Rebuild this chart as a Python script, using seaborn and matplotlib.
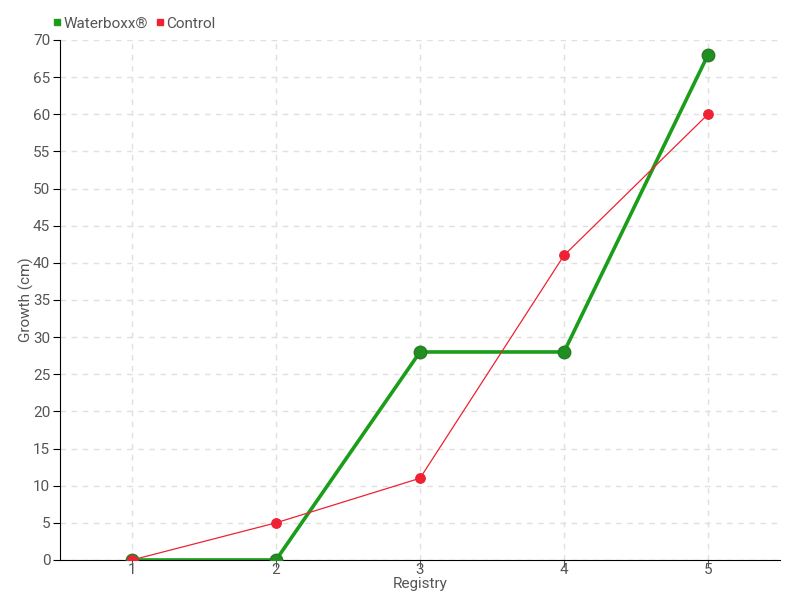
import matplotlib
matplotlib.use("Agg")
import matplotlib.pyplot as plt
import seaborn as sns
import pandas as pd
from matplotlib.lines import Line2D

registry = [1, 2, 3, 4, 5]
waterboxx = [0, 0, 28, 28, 68]
control = [0, 5, 11, 41, 60]

df = pd.DataFrame({
    "Registry": registry * 2,
    "Growth": waterboxx + control,
    "Series": ["Waterboxx®"] * 5 + ["Control"] * 5,
})

sns.set_style("white")
plt.rcParams['font.family'] = ['Roboto', 'DejaVu Sans']

fig = plt.figure(figsize=(8, 6), dpi=100)
ax = fig.add_axes([0.075, 0.0667, 0.9, 0.8667])

green = "#1a9e1a"
red = "#ee2233"
sns.lineplot(data=df[df.Series == "Waterboxx®"], x="Registry", y="Growth", ax=ax,
             color=green, linewidth=2.6, marker="o", markersize=9,
             markerfacecolor="#1f8f1f", markeredgecolor="#2a7a2a", markeredgewidth=1, zorder=3)
sns.lineplot(data=df[df.Series == "Control"], x="Registry", y="Growth", ax=ax,
             color=red, linewidth=0.9, marker="o", markersize=7,
             markerfacecolor=red, markeredgecolor=red, zorder=4)

ax.set_xlim(0.5, 5.5)
ax.set_ylim(0, 70)
ax.set_xticks(registry)
ax.set_yticks(range(0, 71, 5))
ax.grid(True, color="#e0e0e0", linestyle=(0, (4, 4)), linewidth=1)
for s in ["top", "right"]:
    ax.spines[s].set_visible(False)
ax.spines["left"].set_color("black")
ax.spines["bottom"].set_color("black")
ax.tick_params(axis="y", left=True, length=5, color="black", labelsize=11, labelcolor="#555555", pad=2)
ax.tick_params(axis="x", bottom=True, length=5, color="#555555", labelsize=11, labelcolor="#555555", pad=-3)
ax.set_xlabel("Registry", fontsize=11, color="#555555", labelpad=0)
ax.set_ylabel("Growth (cm)", fontsize=11, color="#555555", labelpad=-1)

handles = [Line2D([], [], marker="s", linestyle="none", color=green, markersize=5),
           Line2D([], [], marker="s", linestyle="none", color=red, markersize=5)]
leg = ax.legend(handles, ["Waterboxx®", "Control"], loc="lower left", bbox_to_anchor=(-0.025, 1.0),
                ncol=2, frameon=False, handletextpad=0.0, handlelength=0.8, columnspacing=0.4,
                fontsize=11, borderaxespad=0.2)
for t in leg.get_texts():
    t.set_color("#555555")

fig.savefig("out.png", dpi=100)
